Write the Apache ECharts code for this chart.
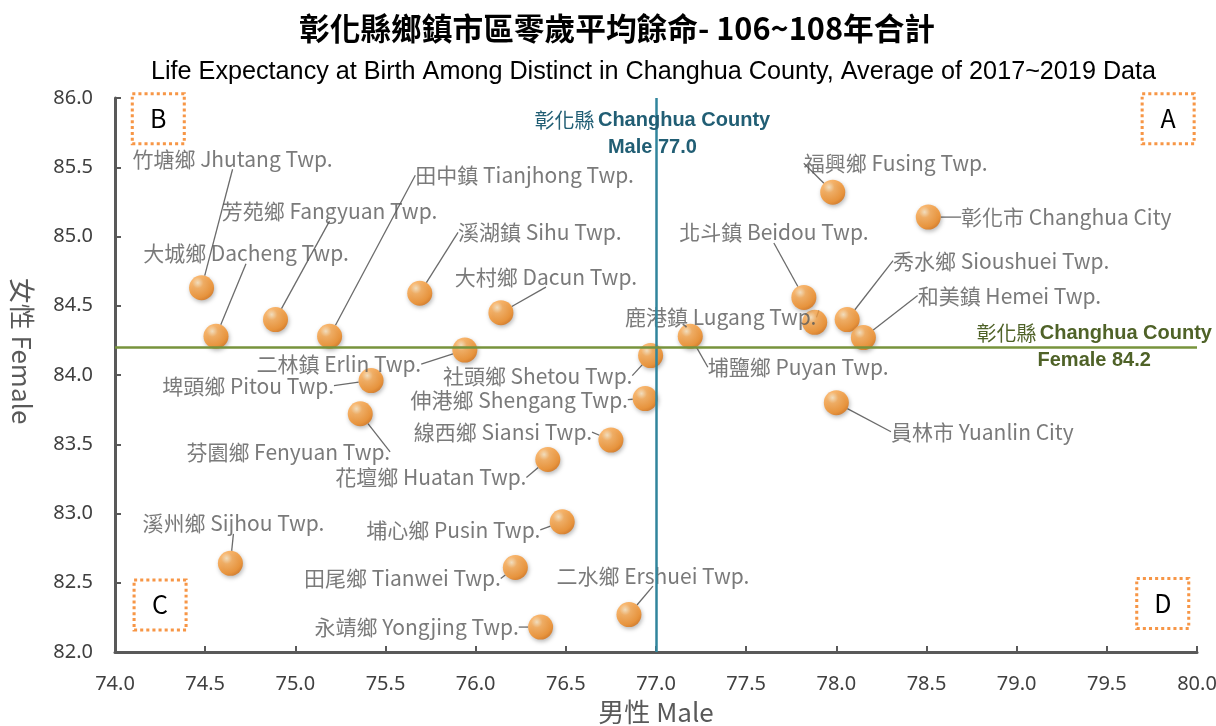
<!DOCTYPE html>
<html>
<head>
<meta charset="utf-8">
<script src="https://cdn.jsdelivr.net/npm/echarts@6/dist/echarts.min.js"></script>
<style>
  html, body { margin: 0; padding: 0; background: #fff; }
  #chart { width: 1216px; height: 726px; }
</style>
</head>
<body>
<div id="chart"></div>
<script>
  // 鄉鎮市區
  const towns = [
    '竹塘鄉 Jhutang Twp.', '大城鄉 Dacheng Twp.', '芳苑鄉 Fangyuan Twp.', '田中鎮 Tianjhong Twp.',
    '溪湖鎮 Sihu Twp.', '大村鄉 Dacun Twp.', '二林鎮 Erlin Twp.', '埤頭鄉 Pitou Twp.',
    '芬園鄉 Fenyuan Twp.', '社頭鄉 Shetou Twp.', '伸港鄉 Shengang Twp.', '線西鄉 Siansi Twp.',
    '花壇鄉 Huatan Twp.', '埔心鄉 Pusin Twp.', '田尾鄉 Tianwei Twp.', '永靖鄉 Yongjing Twp.',
    '二水鄉 Ershuei Twp.', '溪州鄉 Sijhou Twp.', '鹿港鎮 Lugang Twp.', '埔鹽鄉 Puyan Twp.',
    '北斗鎮 Beidou Twp.', '福興鄉 Fusing Twp.', '彰化市 Changhua City', '秀水鄉 Sioushuei Twp.',
    '和美鎮 Hemei Twp.', '員林市 Yuanlin City'
  ];
  // 男性零歲平均餘命
  const maleLE = [
    74.48, 74.56, 74.89, 75.19, 75.69, 76.14, 75.94, 75.42,
    75.36, 76.97, 76.94, 76.75, 76.40, 76.48, 76.22, 76.36,
    76.85, 74.64, 77.88, 77.19, 77.82, 77.98, 78.51, 78.06,
    78.15, 78.00
  ];
  // 女性零歲平均餘命
  const femaleLE = [
    84.63, 84.28, 84.40, 84.28, 84.59, 84.45, 84.18, 83.96,
    83.72, 84.14, 83.83, 83.53, 83.39, 82.94, 82.61, 82.18,
    82.27, 82.64, 84.38, 84.28, 84.56, 85.32, 85.14, 84.40,
    84.27, 83.80
  ];
  // 縣平均
  const countyMale = 77.0;
  const countyFemale = 84.2;
  const quadrants = ['A', 'B', 'C', 'D'];

  // label offsets (px) from each point, in the same order as towns
  const labelShift = [
    [31, -129], [30, -83], [54, -109], [195, -161], [120, -61], [45, -36], [-126, 14], [-123, 5],
    [-72, 38], [-113, 20], [-126, 1], [-108, -8], [-117, 18], [-109, 8], [-113, 11], [-124, 0],
    [24, -39], [3, -40], [-94, -5], [108, 31], [-30, -65], [63, -29], [138, 0], [154, -59],
    [146, -42], [146, 29]
  ];
  // where the quadrant boxes sit (axis units)
  const quadrantPos = [[79.84, 85.85], [74.24, 85.85], [74.25, 82.34], [79.81, 82.35]];

  const cjk = '"Noto Sans CJK TC", "Noto Sans", sans-serif';
  const arial = '"Liberation Sans", Arial, sans-serif';

  const points = towns.map((t, i) => ({ name: t, value: [maleLE[i], femaleLE[i]] }));

  const ball = new echarts.graphic.RadialGradient(0.35, 0.3, 0.75, [
    { offset: 0, color: '#FFE6BF' },
    { offset: 0.3, color: '#FBA94F' },
    { offset: 0.8, color: '#F28A1E' },
    { offset: 1, color: '#D86E0C' }
  ]);

  const option = {
    animation: false,
    title: [
      {
        text: '彰化縣鄉鎮市區零歲平均餘命- 106~108年合計',
        left: 294, top: 8,
        textStyle: { fontFamily: cjk, fontSize: 30.7, fontWeight: 'bold', color: '#000' }
      },
      {
        text: 'Life Expectancy at Birth Among Distinct in Changhua County, Average of 2017~2019 Data',
        left: 146, top: 55,
        textStyle: { fontFamily: arial, fontSize: 25.2, fontWeight: 'normal', color: '#000' }
      }
    ],
    grid: { left: 115, right: 19, top: 98, bottom: 74, outerBoundsMode: 'none' },
    xAxis: {
      type: 'value', min: 74, max: 80, interval: 0.5,
      name: '男性 Male', nameLocation: 'middle', nameGap: 46,
      nameTextStyle: { fontFamily: cjk, fontSize: 26, color: '#595959' },
      axisLine: { show: true, onZero: false, lineStyle: { color: '#595959', width: 3 } },
      axisTick: { show: true, inside: true, length: 6, lineStyle: { color: '#595959', width: 2 } },
      axisLabel: { margin: 22, fontFamily: '"Noto Sans", sans-serif', fontSize: 20, color: '#404040', formatter: v => v.toFixed(1) },
      splitLine: { show: false }
    },
    yAxis: {
      type: 'value', min: 82, max: 86, interval: 0.5,
      name: '女性 Female', nameLocation: 'middle', nameGap: 80, nameRotate: -90,
      nameTextStyle: { fontFamily: cjk, fontSize: 26, color: '#595959', padding: [0, 48, 0, 0] },
      axisLine: { show: true, onZero: false, lineStyle: { color: '#595959', width: 3 } },
      axisTick: { show: true, inside: true, length: 6, lineStyle: { color: '#595959', width: 2 } },
      axisLabel: { margin: 22, fontFamily: '"Noto Sans", sans-serif', fontSize: 20, color: '#404040', formatter: v => v.toFixed(1) },
      splitLine: { show: false }
    },
    series: [
      {
        type: 'scatter',
        data: points,
        symbolSize: 25,
        itemStyle: {
          color: ball,
          shadowColor: 'rgba(0,0,0,0.35)', shadowBlur: 4, shadowOffsetX: 1, shadowOffsetY: 2
        },
        label: {
          show: true, position: 'inside',
          formatter: p => p.name,
          fontFamily: cjk, fontSize: 21, color: '#595959'
        },
        labelLine: { show: true, lineStyle: { color: '#6b6b6b', width: 1.3 } },
        labelLayout: p => ({ dx: labelShift[p.dataIndex][0], dy: labelShift[p.dataIndex][1] }),
        markLine: {
          silent: true, symbol: 'none', label: { show: false },
          data: [
            { xAxis: countyMale, lineStyle: { color: '#31859C', width: 2.5, type: 'solid' } },
            { yAxis: countyFemale, lineStyle: { color: '#77933C', width: 2.5, type: 'solid' } }
          ]
        },
        markPoint: {
          silent: true,
          data: [
            {
              coord: [76.98, 85.74], symbolSize: 0,
              label: {
                show: true, position: 'inside', align: 'center',
                formatter: '{c|彰化縣} {b|Changhua County}\n{b|Male ' + countyMale.toFixed(1) + '}',
                rich: {
                  c: { fontFamily: cjk, fontSize: 20, color: '#215E74', lineHeight: 27 },
                  b: { fontFamily: arial, fontWeight: 'bold', fontSize: 20, color: '#215E74', lineHeight: 27 }
                }
              }
            },
            {
              coord: [79.43, countyFemale], symbolSize: 0,
              label: {
                show: true, position: 'inside', align: 'center',
                formatter: '{c|彰化縣} {b|Changhua County}\n{b|Female ' + countyFemale.toFixed(1) + '}',
                rich: {
                  c: { fontFamily: cjk, fontSize: 20, color: '#4F6228', lineHeight: 27 },
                  b: { fontFamily: arial, fontWeight: 'bold', fontSize: 20, color: '#4F6228', lineHeight: 27 }
                }
              }
            }
          ].concat(quadrants.map((q, i) => ({
            coord: quadrantPos[i], symbol: 'rect', symbolSize: [52, 50],
            itemStyle: { color: '#fff', borderColor: '#F79646', borderWidth: 3, borderType: [3, 3] },
            label: { show: true, position: 'inside', formatter: q, fontFamily: cjk, fontSize: 25, color: '#000' }
          })))
        }
      }
    ]
  };

  const chart = echarts.init(document.getElementById('chart'));
  chart.setOption(option);
</script>
</body>
</html>
